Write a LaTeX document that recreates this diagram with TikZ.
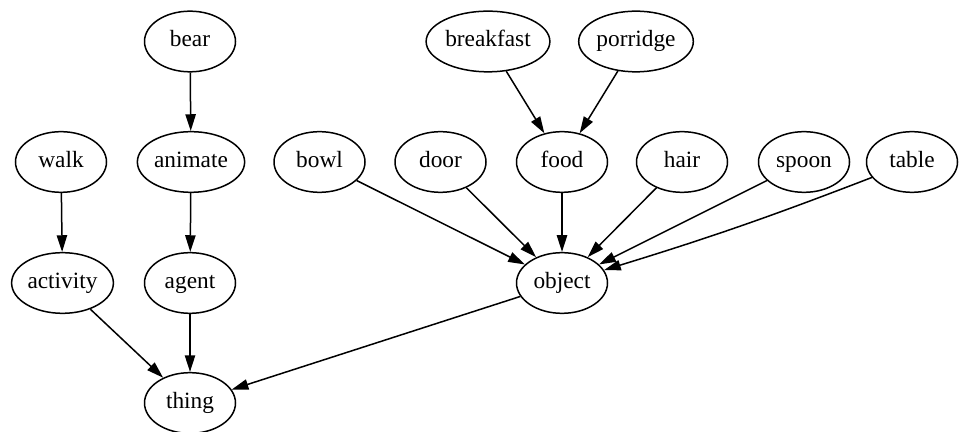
\documentclass[tikz,border=0pt]{standalone}
\usepackage{fontspec}
\setmainfont{Liberation Serif}
\usetikzlibrary{shapes.geometric,arrows.meta}
\begin{document}
\begin{tikzpicture}[x=0.6pt,y=-0.6pt,
  gnode/.style={draw,ellipse,line width=0.9pt,inner xsep=0.6pt,inner ysep=0pt,
    text height=9.5pt,text depth=3pt,
    minimum width=54.6pt,minimum height=36.4pt,font=\fontsize{14pt}{16pt}\selectfont},
  gedge/.style={draw,line width=0.9pt,-{Triangle[length=10pt,width=6.2pt]}}]
\useasboundingbox (0,0) rectangle (964,432);
% row 1
\node[gnode] (bear) at (190,41.5) {bear};
\node[gnode] (breakfast) at (488,41.5) {breakfast};
\node[gnode] (porridge) at (636,41.5) {porridge};
% row 2
\node[gnode] (walk) at (61,162) {walk};
\node[gnode] (animate) at (191,162) {animate};
\node[gnode] (bowl) at (319.5,162) {bowl};
\node[gnode] (door) at (440.5,162) {door};
\node[gnode] (food) at (562,162) {food};
\node[gnode] (hair) at (682,162) {hair};
\node[gnode] (spoon) at (804,162) {spoon};
\node[gnode] (table) at (912,162) {table};
% row 3
\node[gnode] (activity) at (62.5,283) {activity};
\node[gnode] (agent) at (190,283) {agent};
\node[gnode] (object) at (562,283) {object};
% row 4
\node[gnode] (thing) at (190,403) {thing};
% edges
\path[gedge] (bear) -- (animate);
\path[gedge] (animate) -- (agent);
\path[gedge] (walk) -- (activity);
\path[gedge] (breakfast) -- (food);
\path[gedge] (porridge) -- (food);
\path[gedge] (bowl) -- (object);
\path[gedge] (door) -- (object);
\path[gedge] (food) -- (object);
\path[gedge] (hair) -- (object);
\path[gedge] (spoon) -- (object);
\path[gedge] (table) to[bend left=2] (object);
\path[gedge] (activity) -- (thing);
\path[gedge] (agent) -- (thing);
\path[gedge] (object) -- (thing);
\end{tikzpicture}
\end{document}
